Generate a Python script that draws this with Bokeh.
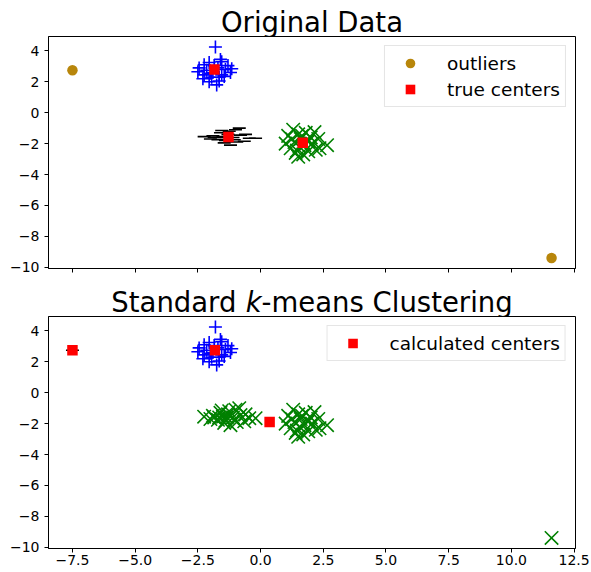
from bokeh.plotting import figure
from bokeh.layouts import column
from bokeh.models import (Range1d, FixedTicker, CustomJSTickFormatter,
                          Legend, LegendItem)
from bokeh.core.properties import value
from bokeh.embed import file_html
from bokeh.resources import INLINE

# --- cluster samples ---------------------------------------------------------
blue_x = [-1.80, -2.45, -2.25, -2.05, -1.55, -1.30, -1.20, -2.05, -1.65, -1.75,
          -2.50, -1.90, -1.70, -2.15, -1.55, -1.40, -2.25, -1.95, -1.65, -1.45,
          -2.00, -1.85, -1.60, -2.30, -1.15]
blue_y = [4.25, 2.90, 2.45, 3.25, 3.30, 3.05, 2.60, 2.00, 2.05, 1.80,
          2.65, 2.60, 2.90, 2.75, 2.45, 2.80, 3.10, 2.30, 2.30, 2.35,
          2.55, 3.05, 3.45, 2.20, 2.85]

black_x = [-2.25, -1.85, -1.60, -1.00, -0.85, -0.45, -1.40, -1.20, -1.70, -2.00,
           -1.50, -1.10, -0.80, -1.30, -1.90, -0.20, -1.45, -0.95, -1.25, -0.65,
           -1.65, -1.05, -1.55, -1.35, -0.60]
black_y = [-1.55, -1.60, -1.30, -1.10, -1.00, -1.65, -1.80, -2.10, -1.75, -1.70,
           -1.55, -1.60, -1.45, -1.40, -1.50, -1.65, -1.95, -1.90, -1.20, -1.85,
           -1.60, -1.75, -1.15, -1.60, -1.40]

green_x = [1.10, 1.30, 1.50, 1.00, 1.20, 1.40, 1.50, 1.70, 1.90, 2.20,
           2.65, 2.30, 2.00, 1.80, 1.60, 1.35, 1.75, 2.05, 1.55, 1.25,
           2.35, 1.90, 1.45, 2.15, 1.65]
green_y = [-1.50, -1.10, -1.40, -2.00, -2.30, -2.60, -2.85, -2.70, -2.50, -2.40,
           -2.10, -1.70, -1.60, -1.30, -1.70, -1.90, -2.10, -2.00, -2.20, -1.70,
           -2.30, -1.85, -2.45, -1.25, -1.50]

outlier_x = [-7.5, 11.6]
outlier_y = [2.75, -9.4]

true_cx = [-1.84, -1.28, 1.68]
true_cy = [2.80, -1.57, -1.95]

calc_cx = [-7.5, -1.82, 0.36]
calc_cy = [2.75, 2.75, -1.89]

x_ticks = [-7.5, -5.0, -2.5, 0.0, 2.5, 5.0, 7.5, 10.0, 12.5]
y_ticks = [-10, -8, -6, -4, -2, 0, 2, 4]

# k-means assignment: blue group stays, first outlier alone, the rest merged
km_alone_x = outlier_x[:1]
km_alone_y = outlier_y[:1]
km_merged_x = black_x + green_x + outlier_x[1:]
km_merged_y = black_y + green_y + outlier_y[1:]

# --- shared ranges with 5% padding --------------------------------------------
all_x = blue_x + black_x + green_x + outlier_x
all_y = blue_y + black_y + green_y + outlier_y
px = 0.05 * (max(all_x) - min(all_x))
py = 0.05 * (max(all_y) - min(all_y))
x_range = Range1d(min(all_x) - px, max(all_x) + px)
y_range = Range1d(min(all_y) - py, max(all_y) + py)

FONT = "DejaVu Sans"
WIDTH = 591
FRAME_LEFT, FRAME_W = 48, 527
FRAME_RIGHT = WIDTH - FRAME_LEFT - FRAME_W
MINUS_FMT = "return tick.toFixed(%d).replace('-', '\u2212');"


def make_fig(border_top, border_bottom, show_xlabels):
    p = figure(frame_width=FRAME_W, frame_height=232,
               x_range=x_range, y_range=y_range,
               min_border_left=FRAME_LEFT, min_border_right=FRAME_RIGHT,
               min_border_top=border_top, min_border_bottom=border_bottom,
               output_backend="svg", toolbar_location=None)
    p.grid.visible = False
    p.outline_line_color = "black"
    p.outline_line_width = 1
    p.background_fill_color = "white"
    p.border_fill_color = "white"
    for ax in (p.xaxis, p.yaxis):
        ax.axis_line_color = "black"
        ax.major_tick_line_color = "black"
        ax.major_tick_out = 4
        ax.major_tick_in = 0
        ax.minor_tick_line_color = None
        ax.major_label_text_font = FONT
        ax.major_label_text_font_size = "14px"
        ax.major_label_text_color = "black"
    p.xaxis.ticker = FixedTicker(ticks=x_ticks)
    p.yaxis.ticker = FixedTicker(ticks=y_ticks)
    p.yaxis.formatter = CustomJSTickFormatter(code=MINUS_FMT % 0)
    p.yaxis.major_label_standoff = 5
    if show_xlabels:
        p.xaxis.formatter = CustomJSTickFormatter(code=MINUS_FMT % 1)
        p.xaxis.major_label_standoff = 2
    else:
        # shared x axis: tick marks only
        p.xaxis.formatter = CustomJSTickFormatter(code="return '';")
        p.xaxis.major_label_text_font_size = "1px"
        p.xaxis.major_label_standoff = 0
    return p


def title_fig(height, anchor_y, parts, size):
    """A bare strip, frame-aligned with the plots, holding a centred title."""
    t = figure(frame_width=FRAME_W, frame_height=height,
               x_range=Range1d(0, FRAME_W), y_range=Range1d(0, height),
               x_axis_type=None, y_axis_type=None,
               min_border_left=FRAME_LEFT, min_border_right=FRAME_RIGHT,
               min_border_top=0, min_border_bottom=0,
               output_backend="svg", toolbar_location=None)
    t.grid.visible = False
    t.outline_line_color = None
    t.background_fill_color = "white"
    t.border_fill_color = "white"
    total = sum(w for _, _, w in parts) * size
    cursor = FRAME_W / 2 - total / 2
    for txt, style, w in parts:
        t.text(x=[cursor], y=[anchor_y], text=[txt], text_align="left",
               text_baseline="alphabetic", text_font=value(FONT),
               text_font_style=style, text_font_size="%spx" % size,
               text_color="black")
        cursor += w * size
    return t


def style_legend(leg):
    leg.location = "top_right"
    leg.margin = 9
    leg.padding = 5
    leg.spacing = 2
    leg.glyph_width = 40
    leg.glyph_height = 24
    leg.label_height = 24
    leg.label_standoff = 17
    leg.label_text_font = FONT
    leg.label_text_font_size = "18.5px"
    leg.label_text_color = "black"
    leg.border_line_color = "#cccccc"
    leg.border_line_width = 1
    leg.background_fill_color = "white"
    leg.background_fill_alpha = 0.8


TITLE_SIZE = 27.5
# (text, style, advance width in em)
top_title = [("Original Data", "normal", 6.62)]
bot_title = [("Standard ", "normal", 4.886), ("k", "italic", 0.579),
             ("-means Clustering", "normal", 9.132)]

# --- top: original data --------------------------------------------------------
head1 = title_fig(36, 15, top_title, TITLE_SIZE)
top = make_fig(0, 16, False)
top.scatter(blue_x, blue_y, marker="cross", size=13, line_color="blue", line_width=1.6)
top.scatter(black_x, black_y, marker="dash", size=13, line_color="black", line_width=1.6)
top.scatter(green_x, green_y, marker="x", size=19, line_color="green", line_width=1.6)
r_out = top.scatter(outlier_x, outlier_y, marker="circle", size=10.5,
                    fill_color="darkgoldenrod", line_color=None)
r_tc = top.scatter(true_cx, true_cy, marker="square", size=10.5,
                   fill_color="red", line_color=None)
leg_top = Legend(items=[LegendItem(label="outliers", renderers=[r_out]),
                        LegendItem(label="true centers", renderers=[r_tc])])
style_legend(leg_top)
top.add_layout(leg_top)

# --- bottom: standard k-means --------------------------------------------------
head2 = title_fig(32, 15, bot_title, TITLE_SIZE)
bot = make_fig(0, 24, True)
bot.scatter(blue_x, blue_y, marker="cross", size=13, line_color="blue", line_width=1.6)
bot.scatter(km_alone_x, km_alone_y, marker="dash", size=13, line_color="black", line_width=1.6)
bot.scatter(km_merged_x, km_merged_y, marker="x", size=19, line_color="green", line_width=1.6)
r_cc = bot.scatter(calc_cx, calc_cy, marker="square", size=10.5,
                   fill_color="red", line_color=None)
leg_bot = Legend(items=[LegendItem(label="calculated centers", renderers=[r_cc])])
style_legend(leg_bot)
bot.add_layout(leg_bot)

layout = column(head1, top, head2, bot, spacing=0)
open("out.html", "w").write(file_html(layout, INLINE))
